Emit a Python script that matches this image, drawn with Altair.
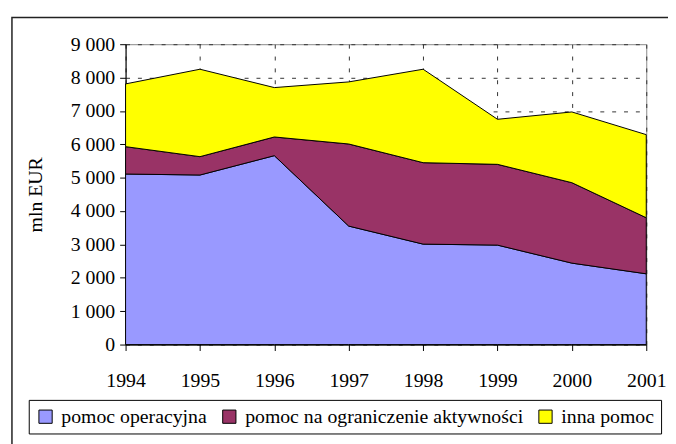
import altair as alt
import pandas as pd

years = [1994, 1995, 1996, 1997, 1998, 1999, 2000, 2001]
series_names = ["pomoc operacyjna", "pomoc na ograniczenie aktywności", "inna pomoc"]
pomoc_operacyjna = [5110, 5080, 5660, 3550, 3010, 2980, 2440, 2120]
pomoc_ograniczenie = [820, 550, 560, 2460, 2440, 2420, 2410, 1680]
inna_pomoc = [1880, 2620, 1480, 1860, 2800, 1350, 2120, 2490]
colors = ["#9999FF", "#993366", "#FFFF00"]
y_ticks = [0, 1000, 2000, 3000, 4000, 5000, 6000, 7000, 8000, 9000]

rows = []
for i, vals in enumerate([pomoc_operacyjna, pomoc_ograniczenie, inna_pomoc]):
    for y, v in zip(years, vals):
        rows.append({"rok": y, "wartosc": v, "seria": series_names[i], "idx": i})
df = pd.DataFrame(rows)

FONT = "Times New Roman, Liberation Serif, serif"

border = alt.Chart(pd.DataFrame({"a": [0]})).mark_rect(
    filled=False, stroke="#222222", strokeWidth=1.5
).encode(
    x=alt.value(-115), x2=alt.value(600), y=alt.value(-27), y2=alt.value(440)
)

area = alt.Chart(df).mark_area(stroke="black", strokeWidth=1).encode(
    x=alt.X("rok:Q", scale=alt.Scale(domain=[1994, 2001], nice=False, zero=False),
            axis=alt.Axis(values=years, format="d", title=None, grid=True,
                          gridDash=[4, 8], gridColor="#333333", gridOpacity=1,
                          labelFont=FONT, labelFontSize=20, labelColor="black",
                          labelPadding=20, tickSize=6, tickColor="black",
                          domainColor="black", labelFlush=False)),
    y=alt.Y("wartosc:Q", stack="zero",
            scale=alt.Scale(domain=[0, 9000], nice=False),
            axis=alt.Axis(values=y_ticks, title="mln EUR",
                          labelExpr="replace(format(datum.value, ',d'), ',', ' ')",
                          grid=True, gridDash=[4, 8], gridColor="#333333", gridOpacity=1,
                          labelFont=FONT, labelFontSize=20, labelColor="black",
                          labelPadding=5, tickSize=6, tickColor="black",
                          domainColor="black",
                          titleFont=FONT, titleFontSize=20, titleFontWeight="normal",
                          titleColor="black", titlePadding=25)),
    color=alt.Color("seria:N", scale=alt.Scale(domain=series_names, range=colors),
                    legend=alt.Legend(title=None, orient="none", legendX=-98, legendY=360,
                                      direction="horizontal", symbolType="square",
                                      symbolSize=180, symbolStrokeColor="black",
                                      symbolStrokeWidth=1, symbolOpacity=1,
                                      labelFont=FONT, labelFontSize=20, labelColor="black",
                                      strokeColor="black", fillColor="white",
                                      padding=7, columnPadding=12, labelOffset=6,
                                      labelLimit=400)),
    order=alt.Order("idx:Q", sort="ascending"),
)

chart = alt.layer(border, area).properties(
    width=527, height=304,
    autosize=alt.AutoSizeParams(type="none"),
    padding={"left": 119, "top": 34, "right": 22, "bottom": 98},
).configure_view(stroke="#888888", strokeWidth=1)

chart.save("out.html", embed_options={"renderer": "svg", "actions": False})
